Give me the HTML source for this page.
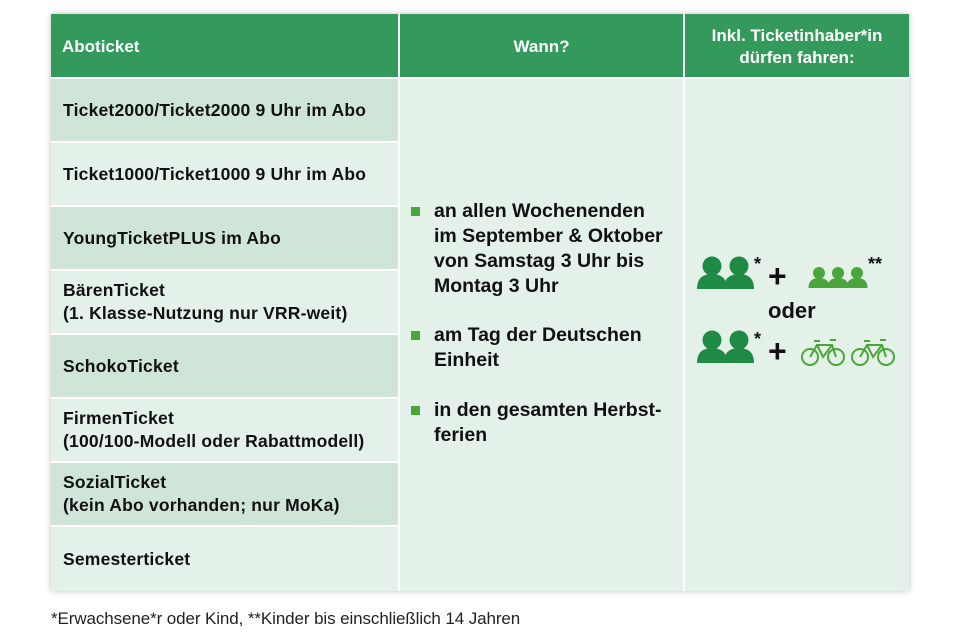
<!DOCTYPE html>
<html><head><meta charset="utf-8"><style>
body{margin:0;width:960px;height:640px;background:#fff;position:relative;font-family:"Liberation Sans",sans-serif;overflow:hidden}
.c{position:absolute;box-sizing:border-box}
.h{background:#339a5c;color:#fff;font-weight:bold;font-size:17px}
.d{background:#cfe5d7}.l{background:#e3f1e8}
.t{font-weight:bold;font-size:17.5px;color:#111;padding-left:12px;display:flex;flex-direction:column;justify-content:center;line-height:23px;letter-spacing:0.2px}
.b{position:absolute;left:412px;font-weight:bold;font-size:19.5px;line-height:25px;color:#111;letter-spacing:0px}
.sq{position:absolute;left:-1px;top:8px;width:9px;height:9px;background:#4aa63c}
</style></head><body>
<div class="c" style="left:51px;top:14px;width:858px;height:577px;box-shadow:0 0 6px rgba(0,0,0,0.25)"></div>
<div class="c h" style="left:51px;top:14px;width:347px;height:63px;padding:23px 0 0 11px">Aboticket</div>
<div class="c h" style="left:400px;top:14px;width:283px;height:63px;text-align:center;padding-top:23px">Wann?</div>
<div class="c h" style="left:685px;top:14px;width:224px;height:63px;text-align:center;padding-top:11px;line-height:22px">Inkl. Ticketinhaber*in<br>dürfen fahren:</div>
<div class="c d t" style="left:51px;top:79px;width:347px;height:62px">Ticket2000/Ticket2000 9 Uhr im Abo</div>
<div class="c l t" style="left:51px;top:143px;width:347px;height:62px">Ticket1000/Ticket1000 9 Uhr im Abo</div>
<div class="c d t" style="left:51px;top:207px;width:347px;height:62px">YoungTicketPLUS im Abo</div>
<div class="c l t" style="left:51px;top:271px;width:347px;height:62px">BärenTicket<br>(1. Klasse-Nutzung nur VRR-weit)</div>
<div class="c d t" style="left:51px;top:335px;width:347px;height:62px">SchokoTicket</div>
<div class="c l t" style="left:51px;top:399px;width:347px;height:62px">FirmenTicket<br>(100/100-Modell oder Rabattmodell)</div>
<div class="c d t" style="left:51px;top:463px;width:347px;height:62px">SozialTicket<br>(kein Abo vorhanden; nur MoKa)</div>
<div class="c l t" style="left:51px;top:527px;width:347px;height:64px">Semesterticket</div>
<div class="c l" style="left:400px;top:79px;width:283px;height:512px"></div>
<div class="c l" style="left:685px;top:79px;width:224px;height:512px"></div>
<div class="b" style="top:199px"><span class="sq"></span><div style="padding-left:22px">an allen Wochenenden<br>im September &amp; Oktober<br>von Samstag 3 Uhr bis<br>Montag 3 Uhr</div></div>
<div class="b" style="top:323px"><span class="sq"></span><div style="padding-left:22px">am Tag der Deutschen<br>Einheit</div></div>
<div class="b" style="top:398px"><span class="sq"></span><div style="padding-left:22px">in den gesamten Herbst-<br>ferien</div></div>
<svg class="c" style="left:690px;top:240px" width="220" height="140" viewBox="0 0 220 140">
<defs>
<g id="p"><circle cx="0" cy="-10" r="9.5"/><path d="M-15 13 Q-15 -2 0 -2 Q15 -2 15 13 Z"/></g>
<g id="s"><circle cx="0" cy="-6" r="6"/><path d="M-10.5 9 Q-10.5 -1 0 -1 Q10.5 -1 10.5 9 Z"/></g>
<g id="bk" fill="none" stroke="#4aa63c" stroke-width="2"><circle cx="-13" cy="5" r="8"/><circle cx="13" cy="5" r="8"/><path d="M-13 5 L-6 -7 L9 -7 L13 5 M-6 -7 L0 5 L9 -7 M-9 -11 L-3 -11 M7 -12 L13 -12"/></g>
</defs>
<g fill="#1e8a45"><use href="#p" x="22" y="36"/><use href="#p" x="49" y="36"/><use href="#p" x="22" y="110"/><use href="#p" x="49" y="110"/></g>
<g fill="#4aa63c"><use href="#s" x="129" y="39"/><use href="#s" x="148" y="39"/><use href="#s" x="167" y="39"/></g>
<use href="#bk" x="133" y="112"/><use href="#bk" x="183" y="112"/>
<g font-family="Liberation Sans" font-weight="bold" fill="#111">
<text x="64" y="30" font-size="18">*</text><text x="64" y="105" font-size="18">*</text>
<text x="178" y="30" font-size="18">**</text>
<text x="78" y="47" font-size="32">+</text><text x="78" y="122" font-size="32">+</text>
<text x="78" y="78" font-size="22">oder</text>
</g></svg>
<div class="c" style="left:51px;top:609px;font-size:17px;color:#222;letter-spacing:-0.1px">*Erwachsene*r oder Kind, **Kinder bis einschließlich 14 Jahren</div>
</body></html>
